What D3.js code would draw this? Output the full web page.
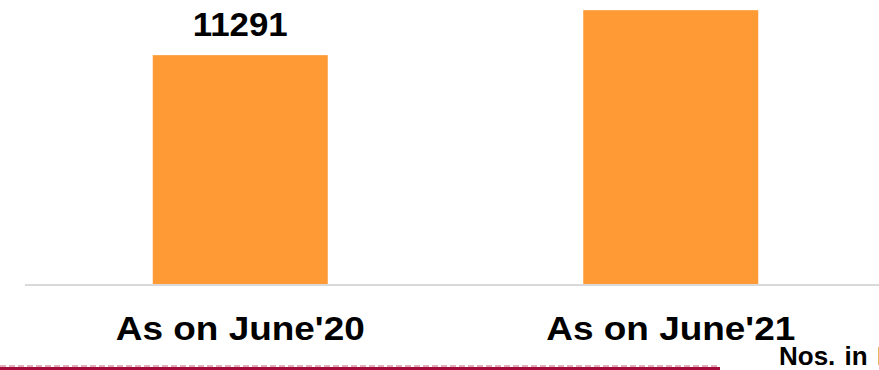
<!DOCTYPE html>
<html>
<head>
<meta charset="utf-8">
<script src="https://cdn.jsdelivr.net/npm/d3@7"></script>
<style>
  html, body { margin: 0; padding: 0; background: #fff; }
  svg { display: block; }
</style>
</head>
<body>
<script>
const categories = ["As on June'20", "As on June'21"];
const values = [11291, 13500];
const valueLabels = ["11291", "13500"];
const noteText = "Nos. in Lakh";

const W = 879, H = 370;
const svg = d3.select("body").append("svg").attr("width", W).attr("height", H);

const x = d3.scaleBand().domain(categories).range([25, 886]).padding(0);
const y = d3.scaleLinear().domain([0, 14000]).range([285, 0]);
const barW = x.bandwidth() * 0.4065;

// bars
svg.selectAll("rect.bar").data(values).enter().append("rect")
  .attr("class", "bar")
  .attr("x", (d, i) => x(categories[i]) + x.bandwidth() / 2 - barW / 2)
  .attr("width", barW)
  .attr("y", d => y(d))
  .attr("height", d => y(0) - y(d))
  .attr("fill", "#FF9A35");

// baseline
svg.append("line")
  .attr("x1", 25).attr("x2", W)
  .attr("y1", y(0)).attr("y2", y(0))
  .attr("stroke", "#d9d9d9").attr("stroke-width", 2);

// value labels (only those that fit inside the frame, as in the original)
const labelData = values.map((v, i) => ({ v, i })).filter(d => y(d.v) - 19 - 26 >= 0);
svg.selectAll("text.val").data(labelData).enter().append("text")
  .attr("class", "val")
  .attr("x", d => x(categories[d.i]) + x.bandwidth() / 2)
  .attr("y", d => y(d.v) - 19)
  .attr("text-anchor", "middle")
  .attr("font-family", "Liberation Sans, Arial, sans-serif")
  .attr("font-weight", "bold")
  .attr("font-size", 34)
  .attr("textLength", 95)
  .attr("lengthAdjust", "spacingAndGlyphs")
  .attr("fill", "#000")
  .text(d => valueLabels[d.i]);

// category axis
const axis = d3.axisBottom(x).tickSize(0).tickPadding(0);
const g = svg.append("g").attr("transform", `translate(0, ${y(0)})`).call(axis);
g.select(".domain").remove();
g.selectAll("text")
  .attr("dy", 0)
  .attr("y", 55)
  .attr("font-family", "Liberation Sans, Arial, sans-serif")
  .attr("font-weight", "bold")
  .attr("font-size", 33)
  .attr("textLength", 249)
  .attr("lengthAdjust", "spacingAndGlyphs")
  .attr("fill", "#000");

// bottom decorative rule
svg.append("line")
  .attr("x1", 0).attr("x2", 720).attr("y1", 366).attr("y2", 366)
  .attr("stroke", "#c45a78").attr("stroke-width", 1)
  .attr("stroke-dasharray", "6,3");
svg.append("rect")
  .attr("x", 0).attr("y", 367).attr("width", 720).attr("height", 3)
  .attr("fill", "#A50D3C");

// note text
svg.append("text")
  .attr("x", 779).attr("y", 365)
  .attr("font-family", "Liberation Sans, Arial, sans-serif")
  .attr("font-weight", "bold")
  .attr("font-size", 26)
  .attr("word-spacing", 2)
  .attr("fill", "#000")
  .text(noteText);
</script>
</body>
</html>
